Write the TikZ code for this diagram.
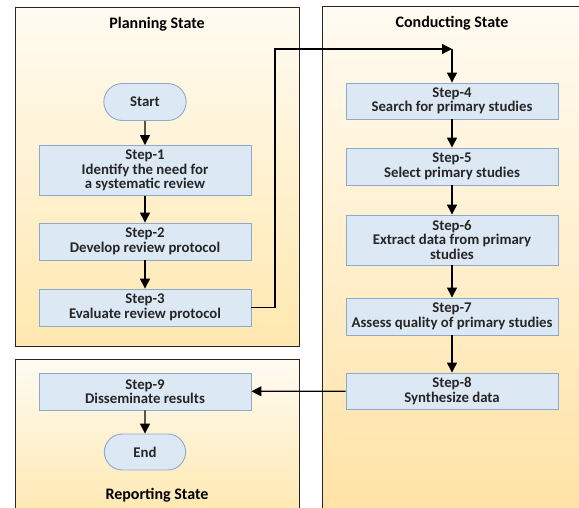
\documentclass[tikz,border=0pt]{standalone}
\usepackage{fontspec}
\setmainfont{Carlito}
\usetikzlibrary{arrows.meta,shapes.misc}
\definecolor{nodefill}{HTML}{DDE8F5}
\definecolor{nodeline}{HTML}{8FA8CB}
\definecolor{bgtop}{HTML}{FFFBF2}
\definecolor{bgbot}{HTML}{FFE8AF}
\tikzset{
  stepbox/.style={draw=nodeline, fill=nodefill, line width=0.9pt, minimum width=212pt, inner sep=0.5pt, align=center, font=\fontsize{14.8}{14.5}\selectfont\bfseries, text=black!85},
  termbox/.style={draw=nodeline, fill=nodefill, line width=0.9pt, rounded rectangle, minimum width=89pt, minimum height=37pt, font=\fontsize{14.8}{14.5}\selectfont\bfseries, text=black!85},
  titletext/.style={font=\fontsize{16}{18}\selectfont\bfseries},
  flow/.style={line width=1.3pt, -{Triangle[length=10pt,width=10pt]}},
  plain/.style={line width=1.3pt}
}
\begin{document}
\begin{tikzpicture}[x=1pt,y=-1pt]
\useasboundingbox (0,0) rectangle (579,508);
\clip (0,0) rectangle (579,508);
% containers
\shade[top color=bgtop, bottom color=bgbot] (15,7) rectangle (299,346);
\draw[line width=0.8pt, black!85] (15,7) rectangle (299,346);
\shade[top color=bgtop, bottom color=bgbot!95!orange] (322,6) rectangle (590,508);
\draw[line width=0.8pt, black!85] (322,520) -- (322,6) -- (590,6);
\shade[top color=bgtop, bottom color=bgbot] (15,359) rectangle (299,520);
\draw[line width=0.8pt, black!85] (15,520) -- (15,359) -- (299,359) -- (299,520);
% titles
\node[titletext] (tplan) at (157,24) {Planning State};
\node[titletext] (tcond) at (452,23) {Conducting State};
\node[titletext] (trep) at (157,495) {Reporting State};
% nodes
\node[termbox] (start) at (145,102) {Start};
\node[stepbox, minimum height=50pt] (s1) at (145,170.5) {Step-1\\Identify the need for\\a systematic review};
\node[stepbox, minimum height=37pt] (s2) at (145,241.5) {Step-2\\Develop review protocol};
\node[stepbox, minimum height=37pt] (s3) at (145,307.5) {Step-3\\Evaluate review protocol};
\node[stepbox, minimum height=36pt] (s4) at (452,101) {Step-4\\Search for primary studies};
\node[stepbox, minimum height=37pt] (s5) at (452,166.5) {Step-5\\Select primary studies};
\node[stepbox, minimum height=50pt] (s6) at (452,240) {Step-6\\Extract data from primary\\studies};
\node[stepbox, minimum height=37pt] (s7) at (452,316.5) {Step-7\\Assess quality of primary studies};
\node[stepbox, minimum height=36pt] (s8) at (452,391) {Step-8\\Synthesize data};
\node[stepbox, minimum height=37pt] (s9) at (145,391.5) {Step-9\\Disseminate results};
\node[termbox, minimum width=88pt, minimum height=36pt] (end) at (145,452) {End};
% connectors
\coordinate (c1) at (275,49);
\coordinate (c2) at (452,49);
\draw[flow] (start) -- (s1);
\draw[flow] (s1) -- (s2);
\draw[flow] (s2) -- (s3);
\draw[flow] (s3.east) -| (c1) -- (c2);
\draw[flow] (c2) -- (s4);
\draw[flow] (s4) -- (s5);
\draw[flow] (s5) -- (s6);
\draw[flow] (s6) -- (s7);
\draw[flow] (s7) -- (s8);
\draw[flow] (s8) -- (s9);
\draw[flow] (s9) -- (end);
\end{tikzpicture}
\end{document}
